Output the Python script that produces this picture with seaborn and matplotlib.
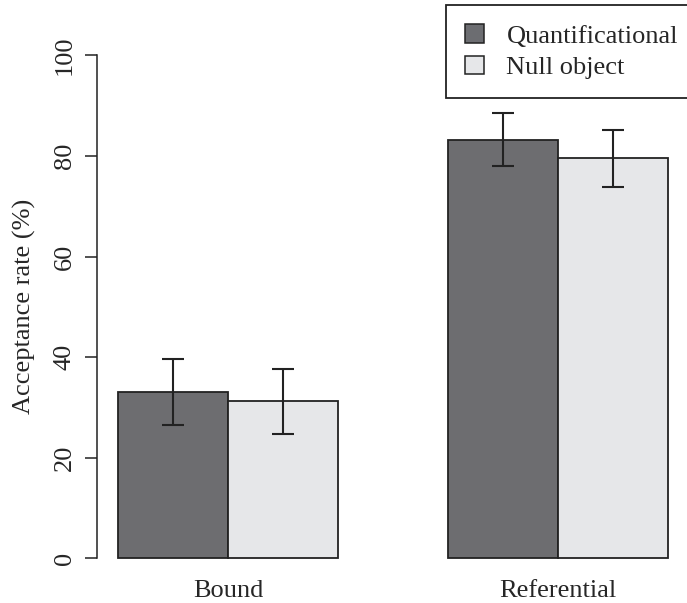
import pandas as pd
import matplotlib
matplotlib.use("Agg")
import matplotlib.pyplot as plt
from matplotlib.patches import Patch
import seaborn as sns

# dane
groups = ["Bound", "Referential"]
conditions = ["Quantificational", "Null object"]
quant_mean = [33.1, 83.2]
null_mean = [31.2, 79.5]
quant_err = [6.55, 5.25]
null_err = [6.45, 5.7]
yticks = [0, 20, 40, 60, 80, 100]

df = pd.DataFrame({
    "type": groups * 2,
    "condition": [conditions[0]] * 2 + [conditions[1]] * 2,
    "rate": quant_mean + null_mean,
})

colors = ["#6c6d71", "#e6e7e9"]
edge = "#222222"

sns.set_style("ticks")
plt.rcParams["font.family"] = ["Liberation Serif", "DejaVu Serif"]

fig = plt.figure(figsize=(6.87, 6.03), dpi=100)
ax = fig.add_axes([96.5 / 687, 24.6 / 603, 593.5 / 687, 543.2 / 603])

sns.barplot(data=df, x="type", y="rate", hue="condition", palette=colors,
            width=2 / 3, gap=0, edgecolor=edge, linewidth=1.3,
            errorbar=None, legend=False, ax=ax)

# slupki bledow
for cont, errs in zip(ax.containers, [quant_err, null_err]):
    xs = [b.get_x() + b.get_width() / 2 for b in cont]
    hs = [b.get_height() for b in cont]
    ax.errorbar(xs, hs, yerr=errs, fmt="none", ecolor=edge,
                elinewidth=1.5, capsize=8, capthick=1.5)

ax.set_xlim(-0.4, 1.4)
ax.set_ylim(-4, 104)
ax.set_yticks(yticks)
ax.set_yticklabels([str(t) for t in yticks], rotation=90, va="center",
                   fontsize=19)
ax.tick_params(axis="y", length=8.5, width=1.1, color=edge, pad=6.5)
ax.tick_params(axis="x", length=0, pad=1, labelsize=19)
for s in ["top", "right", "bottom"]:
    ax.spines[s].set_visible(False)
ax.spines["left"].set_bounds(0, 100)
ax.spines["left"].set_linewidth(1.1)
ax.spines["left"].set_color(edge)
ax.set_xlabel("")
ax.set_ylabel("Acceptance rate (%)", fontsize=19, labelpad=13)

handles = [Patch(facecolor=c, edgecolor=edge, linewidth=1.1) for c in colors]
fig.legend(handles, conditions, loc="upper left",
           bbox_to_anchor=(446 / 687, 1 - 5 / 603), fontsize=19,
           frameon=True, fancybox=False, framealpha=1, edgecolor=edge,
           handlelength=0.72, handleheight=0.72, handletextpad=0.85,
           labelspacing=0.3, borderpad=0.72, borderaxespad=0)
fig.legends[0].get_frame().set_linewidth(1.3)

fig.savefig("out.png", dpi=100)
